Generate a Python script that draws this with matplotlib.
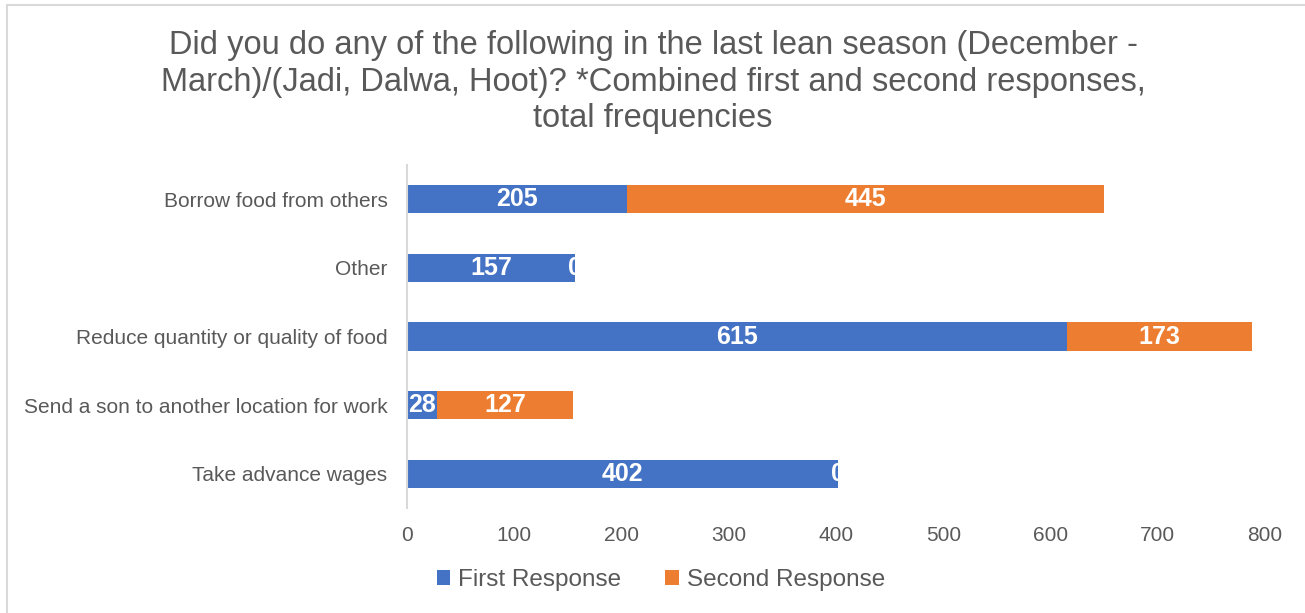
import matplotlib
matplotlib.use('Agg')
import matplotlib.pyplot as plt
from matplotlib.patches import Rectangle

categories = ['Borrow food from others', 'Other', 'Reduce quantity or quality of food',
              'Send a son to another location for work', 'Take advance wages']
first_response = [205, 157, 615, 28, 402]
second_response = [445, 0, 173, 127, 0]
x_ticks = [0, 100, 200, 300, 400, 500, 600, 700, 800]

title = ('Did you do any of the following in the last lean season (December -\n'
         'March)/(Jadi, Dalwa, Hoot)? *Combined first and second responses,\n'
         'total frequencies')

plt.rcParams['font.family'] = ['Liberation Sans', 'DejaVu Sans']
grey = '#595959'
blue = '#4472C4'
orange = '#ED7D31'

fig = plt.figure(figsize=(13.05, 6.13), dpi=100)
ax = fig.add_axes([407 / 1305, 1 - 508 / 613, (1265 - 407) / 1305, 343 / 613])

ypos = list(range(len(categories)))
b1 = ax.barh(ypos, first_response, height=0.41, color=blue, label='First Response')
b2 = ax.barh(ypos, second_response, left=first_response, height=0.41, color=orange,
             label='Second Response')
ax.bar_label(b1, label_type='center', color='white', fontsize=18, fontweight='bold')
ax.bar_label(b2, label_type='center', color='white', fontsize=18, fontweight='bold')

ax.set_ylim(4.5, -0.5)
ax.set_xlim(0, 800)
ax.set_xticks(x_ticks)
ax.set_yticks(ypos)
ax.set_yticklabels(categories)
ax.tick_params(axis='both', length=0, labelsize=15, colors=grey)
ax.tick_params(axis='x', pad=13)
ax.tick_params(axis='y', pad=14)
for s in ['top', 'right', 'bottom']:
    ax.spines[s].set_visible(False)
ax.spines['left'].set_color('#d9d9d9')
ax.spines['left'].set_linewidth(1.5)

fig.text(0.5005, 1 - 82 / 613, title, ha='center', va='center', fontsize=23.5,
         color=grey, linespacing=1.22)

fig.legend(handles=[b1, b2], loc='center', bbox_to_anchor=(0.5065, 1 - 580 / 613),
           ncol=2, frameon=False, fontsize=17.5, labelcolor=grey, handlelength=0.55,
           handleheight=0.55, handletextpad=0.35, columnspacing=1.8)

fig.add_artist(Rectangle((7 / 1305, -0.1), 1.2, 1 - 5 / 613 + 0.1,
                         transform=fig.transFigure, fill=False,
                         edgecolor='#d9d9d9', linewidth=1.5))

fig.savefig('out.png', dpi=100)
